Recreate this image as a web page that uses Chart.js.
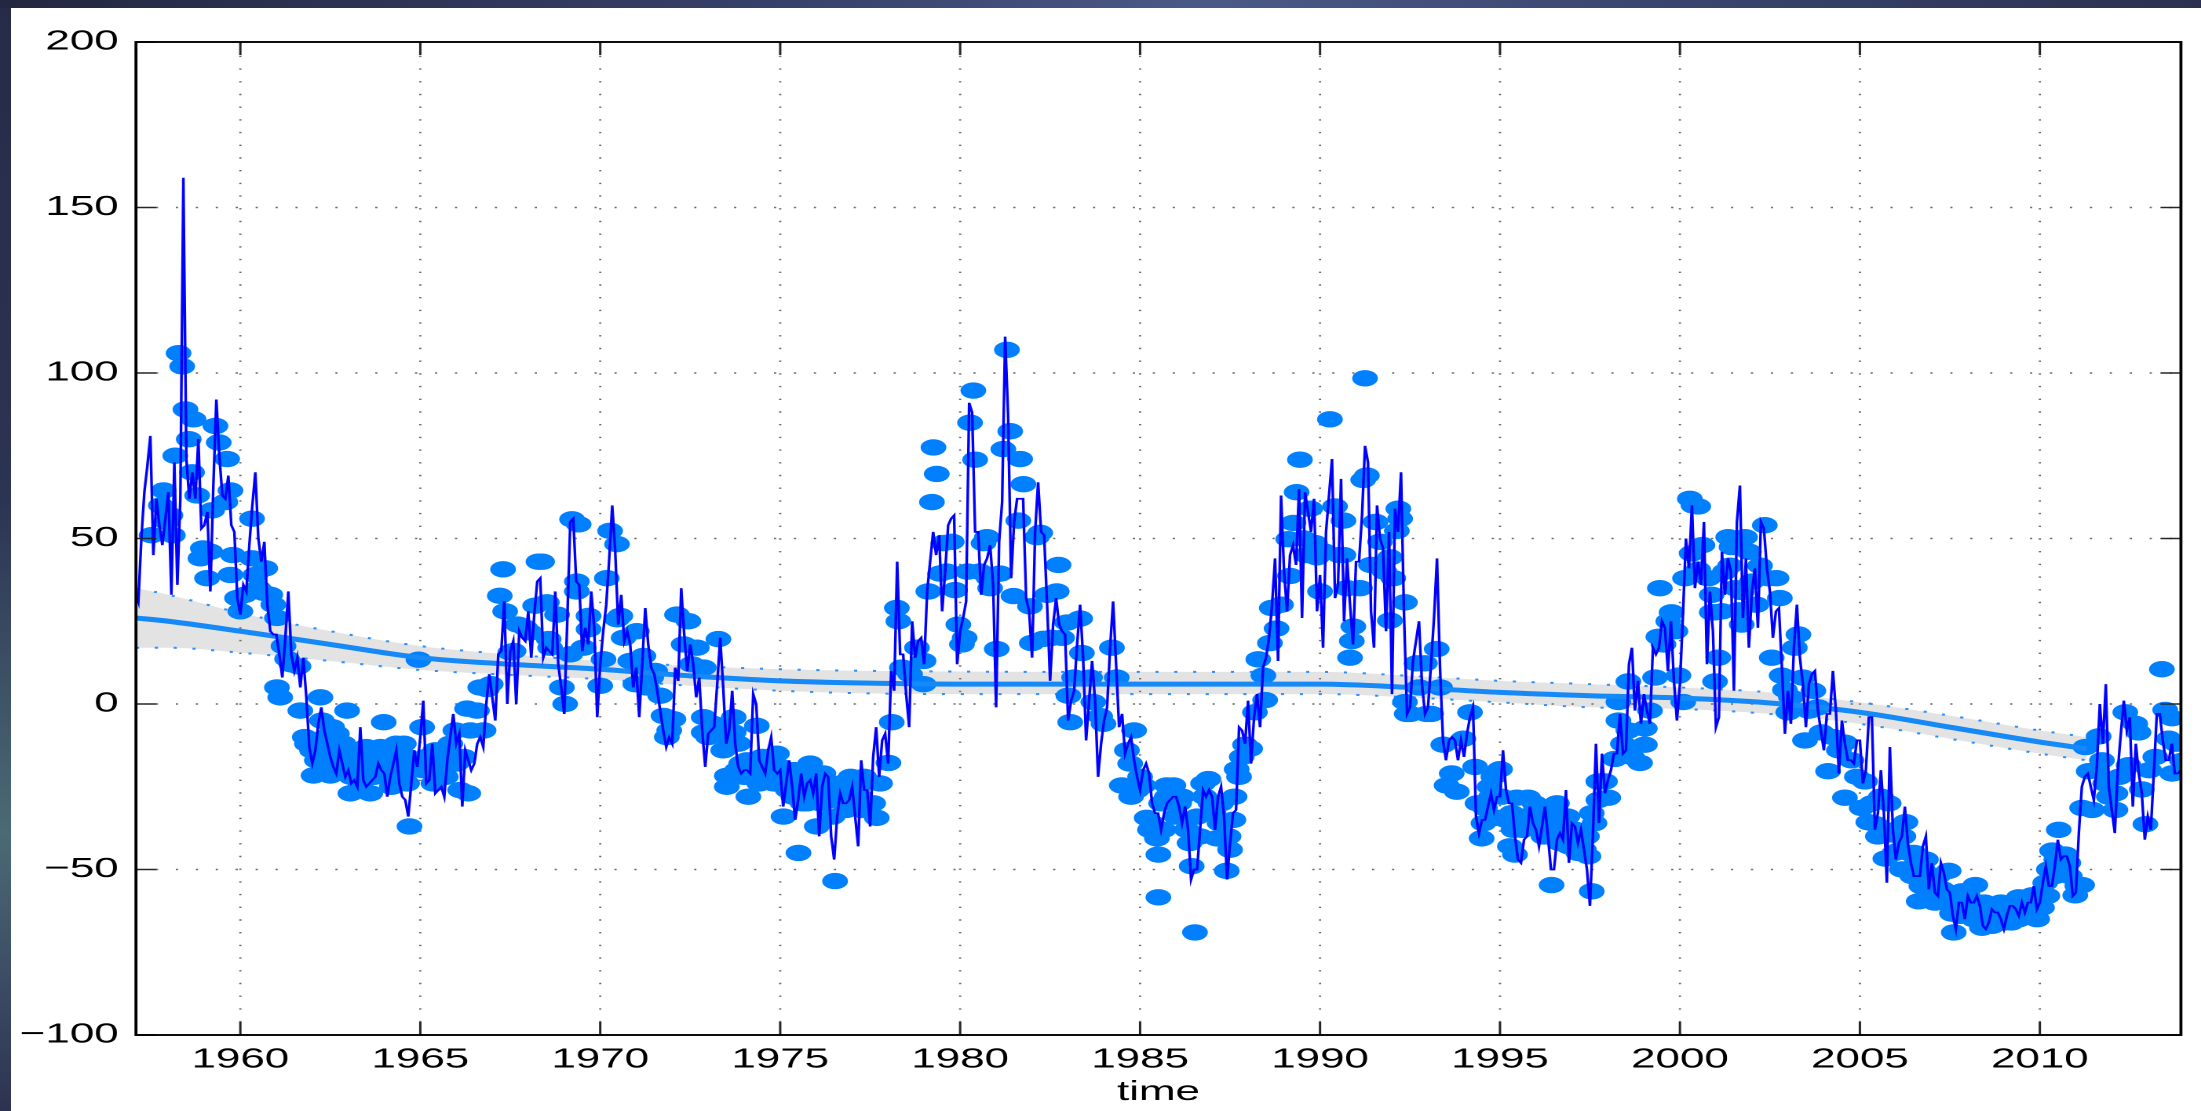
<!DOCTYPE html>
<html><head><meta charset="utf-8">
<script src="https://cdn.jsdelivr.net/npm/chart.js@4.4.1/dist/chart.umd.min.js"></script>
<style>
html,body{margin:0;padding:0;width:2201px;height:1111px;overflow:hidden;}
body{position:relative;background:linear-gradient(180deg,#262b47 0%,#2c3453 45%,#4b6a74 75%,#3a4862 90%,#2c3350 100%);}
#topstrip{position:absolute;left:0;top:0;width:2201px;height:8px;background:linear-gradient(90deg,#23273f 0%,#37406a 35%,#4a5a86 55%,#3b4670 75%,#2a3150 100%);}
#paper{position:absolute;left:11px;top:8px;right:0;bottom:0;background:#fff;}
#wrap{position:absolute;left:0;top:0;width:1402px;height:1111px;transform:scaleX(1.5699);transform-origin:0 0;}
canvas{display:block;}
</style></head><body>
<div id="topstrip"></div><div id="paper"></div>
<div id="wrap"><canvas id="c" width="1402" height="1111"></canvas></div>
<script>
// ---------- DATA ----------
const lineStartYear = 1957;          // first monthly value = Jan 1957
const lineValues = [
 35,34,31,50,64,72,81,45,62,54,48,56,
 64,33,73,36,62,159,74,62,70,62,80,53,
 54,58,34,66,92,75,63,62,69,54,52,32,
 27,36,34,48,60,70,50,43,49,30,22,21,
 21,15,8,20,34,15,10,14,5,14,2,-13,
 -18,-14,-6,-1,-8,-12,-16,-19,-21,-14,-18,-22,
 -20,-24,-23,-25,-7,-23,-25,-24,-23,-22,-18,-20,
 -21,-28,-22,-18,-14,-24,-28,-29,-34,-24,-14,-19,
 -10,1,-24,-23,-12,-27,-26,-25,-28,-17,-10,-3,
 -12,-9,-31,-14,-17,-20,-18,-12,-10,-13,0,9,
 2,-5,15,16,31,0,16,19,0,22,20,19,
 28,14,27,37,38,14,17,16,15,34,12,5,
 -3,25,55,56,37,36,16,23,18,34,23,-4,
 12,22,30,44,60,46,24,33,19,22,18,5,
 11,-4,12,29,18,11,9,4,-2,-8,-13,-10,
 -12,11,7,35,21,10,18,12,2,8,-8,-19,
 -9,-8,-7,6,20,5,-12,-8,4,-12,-19,-21,
 -20,-20,-21,3,0,-17,-19,-21,-14,-10,-20,-21,
 -20,-31,-24,-17,-25,-35,-29,-21,-28,-24,-23,-27,
 -21,-40,-25,-21,-22,-40,-47,-34,-27,-30,-30,-29,
 -25,-34,-43,-17,-26,-26,-37,-16,-7,-22,-11,-9,
 -18,10,4,43,15,15,3,-7,25,14,19,20,
 12,34,43,52,45,51,28,40,54,56,57,12,
 22,26,31,91,88,52,52,33,42,44,48,36,
 -1,49,61,111,87,38,55,62,62,62,32,28,
 14,52,67,52,51,30,7,24,32,24,22,21,
 -5,1,4,18,30,14,-11,1,13,1,-22,-12,
 -5,-1,17,31,12,-7,-3,-15,-12,-10,-17,-22,
 -26,-20,-18,-21,-30,-33,-33,-38,-33,-30,-29,-28,
 -28,-31,-36,-31,-38,-53,-50,-50,-38,-26,-28,-26,
 -28,-38,-28,-25,-34,-53,-42,-33,-32,-7,-8,-12,
 1,-18,-4,3,-7,11,14,20,30,44,13,63,
 40,28,45,48,42,65,26,64,58,52,62,28,
 39,17,52,63,74,32,36,68,25,44,30,18,
 43,43,57,78,73,28,17,60,50,47,22,52,
 3,59,52,70,27,-3,-1,13,19,25,6,-3,
 -1,12,26,44,11,-11,-17,-11,-10,-11,-17,-11,
 -16,-9,-4,-1,-34,-39,-35,-35,-31,-27,-32,-28,
 -28,-14,-26,-30,-30,-40,-47,-48,-41,-40,-31,-36,
 -38,-43,-37,-31,-40,-50,-50,-41,-39,-41,-26,-48,
 -36,-37,-42,-38,-44,-50,-61,-39,-12,-36,-15,-27,
 -23,-20,-15,-15,-3,-15,-14,12,17,-2,7,-6,
 3,-2,-6,17,15,17,25,23,10,25,7,-5,
 6,27,50,41,60,35,43,36,55,12,34,22,
 -7,-4,46,33,44,40,4,55,66,26,44,17,
 34,41,23,55,53,41,34,20,28,29,11,-9,
 4,-6,17,30,14,6,-7,6,9,10,-2,-8,
 -14,-3,-3,10,-2,-21,-5,-12,-17,-17,-18,-11,
 -11,-24,-20,-4,-4,-38,-33,-20,-33,-54,-13,-38,
 -47,-42,-40,-31,-42,-48,-52,-52,-52,-43,-40,-56,
 -48,-57,-58,-48,-51,-56,-57,-64,-68,-60,-60,-65,
 -58,-60,-60,-58,-61,-67,-68,-66,-62,-63,-63,-65,
 -68,-64,-61,-61,-62,-64,-60,-63,-60,-60,-55,-62,
 -60,-54,-49,-55,-55,-49,-41,-47,-46,-46,-49,-58,
 -57,-39,-25,-22,-21,-25,-29,-19,0,-12,6,-25,
 -32,-39,-20,-9,1,-8,-4,-31,-12,-21,-27,-41,
 -34,-38,-21,-3,-3,-11,-17,-17,-12,-21,-21,-20
];

// observation markers: [months after Jan 1957, value]
const markerPoints = [
 [6.4,51],[9.5,60],[10.4,64.5],[11.5,55],[12.7,57],[13.5,51],[14.3,75],[15.4,106],[16.6,102],[17.7,89],
 [18.8,80],[19.9,70],[20.4,86],[21.6,63],[22.7,44],[23.5,47],[24.9,38],[26,46],[26.6,58.5],[27.7,84],
 [28.8,79],[31,61],[31.6,74],[32.7,64.5],[32.7,39],[33.5,45],[34.9,32],[36,28],[37.5,33],[39.9,56],
 [39.9,44],[41,39],[42,35],[43.8,33.6],[44.3,41],[46,33],[47,30],[48.2,26],[48.2,5],[49.3,2],
 [50.4,17.5],[51.6,13.6],[53,12],[55.4,11.4],[56,-2],[57.5,-10],[58.2,-12],[59.9,-14],[60.4,-21.6],[61.5,-17],
 [62,-15],[62.7,2],[63.2,-5],[63.5,-18],[64.5,-10],[65,-16],[66,-21.6],[66.6,-7],[67,-20],[67.5,-12],
 [68.2,-9],[69,-15],[70,-20],[70.4,-12],[71,-16],[71.6,-2],[72.7,-27],[73,-22],[74,-18],[74.5,-14],
 [75.5,-20],[76,-24],[77,-19.6],[78,-13],[78.5,-20],[79.3,-27],[80.5,-22],[81,-16],[82.7,-13],[83.8,-5.5],
 [84,-22],[85,-18],[86,-14],[86.5,-25],[87.5,-20],[88,-12],[89,-15],[90,-22],[90.5,-12],[91.6,-16],
 [91.6,-24],[92.4,-37],[93,-20],[94,-18],[95.4,13.4],[96.6,-7],[97,-20],[98,-16],[99,-20],[100.4,-24],
 [101,-14],[102,-17],[103.8,-19.6],[104.5,-22],[105,-15],[106,-12],[107.7,-8],[108,-18],[109.3,-26],[110.5,-16],
 [111.6,-1.4],[112,-27],[112.7,-8],[114.9,-2],[116,5],[117.1,-8],[118.2,4.5],[119.5,6],
 [122.5,32.7],[123.6,40.7],[124.3,28],[126,15.6],[127.1,16],[128.5,24],[131,23],[132.7,21.6],[134.3,29.7],[135.4,43],
 [136.6,43],[138.2,30.7],[138.8,19.6],[139.3,17],[141.6,27],[143.2,5],[144.3,0],[146,15],[146.6,55.8],[148.2,37],
 [148.2,34],[148.8,54.3],[150.4,17],[152.1,26.6],[152.1,22.6],[156,5.5],[157.1,13.5],[158.2,38],[159.3,52.3],[161.6,48.3],
 [161.6,25.6],[162.7,26.6],[163.8,20],[166,13],[167.7,6],[168.2,22],[169.3,11.5],[170.4,14.5],[171.5,5],[173,8],
 [174.3,10],[176,2.5],[177.1,-3.6],[178.2,-10],[179,-8],[180.4,-4.6],[181.6,27],[183.8,18],[185.4,25],[186.5,12],
 [188.2,17],[190.5,11],[190.5,-4],[190.5,-8.6],[192,-10],[193.5,-6],[194.9,-9],[195.4,19.6],[196.5,-8],[197,-14],
 [198.2,-21.7],[198.2,-25],[199,-12],[200.5,-4],[200.5,-8.6],[201.6,-20],[202,-12],[203,-18],[204,-22],[204.9,-17],
 [205.4,-28],[206.5,-22],[207.5,-18],[208.2,-6.6],[209,-24],[210,-16],[211.5,-19],[212,-17],[213,-22],[214,-24],
 [214.9,-15],[215.5,-20],[216,-19],[217.1,-34],[217.5,-23],[218.5,-26],[219.5,-20],[220.4,-28],[221,-20],[222.1,-45],
 [222.7,-24],[223.5,-30],[224.9,-30],[225.5,-26],[226,-18],[227,-22],
 [228.2,-24.6],[228.2,-37],[229.5,-30],[230.4,-21],[231.5,-26],[232.7,-29],[233.5,-34],[234.3,-53.5],[235,-28],[236,-24],
 [237,-26],[238,-32],[239.5,-22],[240,-30],[241.6,-25.8],[242.5,-28],[243,-32],[244,-22],[245.4,-23.4],[246,-30],
 [247,-30],[248.2,-34.4],[249.3,-24],[252.1,-17.8],[253.2,-5.5],[254.9,29],[255.4,25],[256.6,11],[259.3,9],
 [261.6,17],[263.8,6],[263.8,13],[265.4,34],[266.6,61],[267.1,77.5],[268.2,69.5],[269.3,39.4],[270.4,48.6],[271.5,40],
 [273.2,49],[274.3,34.4],[275.4,24],[276.6,18],[277.5,20],[278.5,40],[279.3,85],[280.4,94.7],[281,73.8],[282.5,40],
 [283.8,48.6],[284.9,50.4],[285.5,38],[286,35],[288.2,16.6],[289.3,39.4],[290.4,77],[291.6,107],[292.7,82.4],[293.8,32.6],
 [295.4,55.4],[296,74],[297.1,66.4],[299.3,29.5],[299.9,18.4],[301.6,50.4],[302.7,51.7],[303.8,19.7],[305,33],[306.5,20],
 [308.2,34],[308.8,42],[310,20],[311.6,24.6],[312.1,2.5],[312.7,-5.5],[314,8],[316,25.8],[316.6,15.4],[319.3,8],
 [320.4,0.6],[322.7,-3.7],[323.8,-6],[326.6,17],[328.2,8],[329.9,-24.6],[331.6,-14],[332.7,-18],[333,-28],[334,-8],
 [335,-26],[336,-22],[337.1,-24.6],[338.2,-34.4],[339.3,-38],[340,-36],[341.6,-40.6],[342.1,-45.5],[342.1,-58.4],[343,-30],
 [343.8,-38],[344.9,-28],[344.9,-24.6],[346,-27],[347.1,-24.6],[348,-34],[349,-30],[350,-28],[351.6,-38],[352.5,-42],
 [353.2,-49],[354.3,-69],[355,-34],[356,-40],[357,-24],[357.5,-28],[358.8,-22.7],[359.5,-30],[360.5,-33],[361.6,-40.6],
 [362.5,-36],[363,-30],[364.9,-50.4],[365.5,-40],[366,-44],[367.1,-35],[367.5,-28],[368.2,-19.7],[369,-22],[369.9,-16],
 [371,-12.3],[372.7,-13.5],[374.3,-2.5],[375.4,13.5],[377.1,8.6],[377.7,1.2],[379.3,18.4],[379.9,29],[381.5,22.8],[383,30],
 [385.4,49.8],[386,38.7],[387.1,54.7],[388.2,64],[389.3,73.8],[390.5,50],[391.5,45],[392.7,59],[394.3,48.6],[394.9,44.3],
 [396,34],[397.5,46],[399.3,86],[401,59.7],[402.5,45],[403.8,55.4],[403.8,45],[405,35],[406,14],[406.6,19],
 [407.1,23.4],[409.3,35],[410.4,67.7],[411,98.4],[411.6,69],[413,42],[414.5,55],[415.4,41.8],[416,49],[417.5,40],
 [419.3,25.2],[419.3,44.3],[420.4,38],[421.6,52.3],[422.1,59],[422.7,56],[424.3,30.7],[424.3,0.6],[424.9,-3],[426,-3],
 [428.2,12.3],[429,5],[431,12.3],[431.6,-3],[433,-3],[434.9,16.6],[436,5],[437.1,-12.3],[438.2,-24.6],[439.9,-21],
 [441.6,-26.5],[443.8,-10.5],[446,-2.5],[447.7,-19],[448.5,-30],[449.9,-40.6],[450.5,-36],[451,-31.4],[452.5,-25],[453,-28],
 [453.8,-22],[454.9,-34.4],[456,-19.7],[456.5,-28],[458,-35],[459.3,-43],[459.9,-33],[460.5,-38],[461,-45.5],[461.6,-28.3],
 [462.1,-34.4],[463.5,-38],[464,-34],[465.4,-28.3],[466.6,-35],[467.5,-30],[468,-31],[469.5,-36],[470.5,-40],[471,-31.4],
 [472.5,-40],[473.2,-54.7],[473.8,-36],[474.3,-34.4],[475,-30],[476,-42],[477.7,-38],[478.5,-34],[479,-43],[480.5,-40],
 [481,-38],[482.1,-45],[483,-40],[484,-44],[485,-40],[485.5,-46],[486.6,-56.6],[486.6,-33],[487.5,-36],[488.8,-29],
 [488.8,-23.4],[491,-23.4],[492.1,-28.3],[494.3,-16.6],[495.5,0.6],[495.5,-5],[497,-12],[498.8,6.8],[498.8,-8],[500,-16],
 [502.7,-17.8],[504.3,-12.3],[504.3,-7.4],[506,-2],[507.7,8],[508.8,20.3],[509.3,35],[510.5,18],[512.1,25],[513.2,27.7],
 [514.5,22],[515.5,8.6],[517.1,0.6],[517.7,38],[519.3,62],[519.9,45.5],[520.5,60],[522.1,59.7],[522.1,40.6],[523.5,48],
 [525.4,38],[526.6,33],[526.6,27.7],[527.7,6.8],[527.7,27.7],[528.8,14],[530,28],[531,40],[532.1,50.4],[532.7,41.8],
 [533.2,47.4],[534.5,35],[535.5,28.3],[536.6,33.8],[536.6,24],[537.7,50.4],[539,46],[540,37],[541.5,30],[542.7,41.8],
 [544.3,54],[545.5,38],[546.6,14],[548.2,38],[549.3,32],[549.9,8.6],[551,4.3],[552.1,-2.5],[553,2],[554.3,17],
 [555.5,21],[557,8],[557.7,-11],[559,-2],[560.5,4],[562,-1],[563.2,-8.6],[565.4,-20.3],[567,-10],[569,-14],
 [571,-11.7],[571,-28.3],[573.2,-17],[575,-22],[576.6,-31.4],[577.7,-23.4],[578.8,-35.7],
 [580,-30],[581.2,-36.3],[582,-40],[583,-28],[584.5,-46.7],[585.6,-30],[586.7,-39.4],[587.5,-45],[588,-38],[589,-44.3],
 [590,-50],[590.5,-40],[591.2,-35.7],[592.5,-45],[593.5,-52],[594,-45],[595,-48],[595.6,-59.6],[596.5,-55],[597,-50],
 [598,-47],[598.5,-52],[599,-54.7],[600.5,-58],[601,-60],[602,-52],[603.5,-56],[604.5,-60],[605.6,-50.4],[606.7,-63.3],
 [607,-58],[607.3,-69],[608.5,-60],[609.5,-64],[610.1,-56.6],[611.5,-62],[612,-58],[613,-60],[614,-65],[614.5,-54.7],
 [615.5,-62],[616.7,-67.6],[617.5,-60],[618,-65],[619,-62],[619.5,-66],[620.1,-67],[621.2,-61.5],[622.5,-65],[623,-60],
 [624,-66],[624.8,-62],[625.5,-63],[626.5,-66],[627,-62],[628,-60],[629,-65],[629,-58.4],[630.5,-61],[631,-64],
 [632,-62],[633,-62],[633.4,-57.8],[634.5,-60],[635.1,-65],[636,-58],[636.7,-61.5],[637.8,-54],[638.5,-58],[639,-50],
 [640.1,-44.3],[641,-52],[641.5,-47],[642.3,-38],[643.5,-50],[644.5,-45.5],[645.5,-48],[646,-52],[647.8,-57.8],[648.5,-55],
 [650.1,-54.7],[650.1,-31.4],[651.2,-13],[652.3,-20.3],[653.4,-32],[655,-20],[655.6,-9.8],[656.7,-17],[657.8,-24],[659,-28],
 [661.2,-32],[661.2,-27],[662.5,-22],[664.5,-2.5],[665.6,-18.5],[667.8,-6],[668.9,-8.6],[670,-25.8],[671.2,-36.3],[672.5,-20],
 [674.5,-16],[676.7,10.5],[677.8,-1.8],[679,-10.5],[680.1,-4.3],[680.1,-21],[681.5,-12],[683.4,-17.2]
];

// smooth trend with confidence band
const trendYears  = [1957.1,1958,1960,1962.5,1965,1967.5,1970,1972.5,1975,1977.5,1980,1982.5,1985,1987.5,1990,1992.5,1995,1997.5,2000,2002.5,2005,2007.5,2010,2011.3];
const trendValues = [26,25,22,18,14,12,10.5,8.5,7,6.3,6,6,6,6,6,5,3.5,2.5,1.8,0.3,-2.5,-7,-11.5,-13.5];
const bandUpper   = [35,33,27.5,22,17.5,15,13,11.5,10.5,10,9.8,9.7,9.7,9.7,9.7,8.5,7,6,5,3.5,0.5,-3.5,-8,-10];
const bandLower   = [17,17,15.5,13,10.3,8.8,7.5,5.5,4,3.2,3,3,3,3,3,2,0.5,-1,-1.5,-3,-6,-10.5,-15,-17];

const xTickValues = [1960,1965,1970,1975,1980,1985,1990,1995,2000,2005,2010];
const yTickValues = [-100,-50,0,50,100,150,200];
const xMin = 1957.1, xMax = 2013.92, yMin = -100, yMax = 200;
const xTitle = 'time';

// ---------- CHART ----------
const FONT = 'Liberation Sans, Arial, sans-serif';
const pts = (xs, ys) => xs.map((x, i) => ({x: x, y: ys[i]}));
const lineData = lineValues.map((v, i) => ({x: lineStartYear + i / 12, y: v}));
const markerData = markerPoints.map(p => ({x: lineStartYear + p[0] / 12, y: p[1]}));

const frame = {
  id: 'frame',
  beforeDatasetsDraw(chart) {
    const {ctx, chartArea: a, scales: {x, y}} = chart;
    ctx.save();
    ctx.strokeStyle = '#6a6a6a';
    ctx.lineWidth = 1.4;
    ctx.setLineDash([1.4, 11.3]);
    xTickValues.forEach(v => {
      const px = x.getPixelForValue(v);
      ctx.beginPath(); ctx.moveTo(px, a.bottom); ctx.lineTo(px, a.top); ctx.stroke();
    });
    yTickValues.forEach(v => {
      if (v === yMin || v === yMax) return;
      const py = y.getPixelForValue(v);
      ctx.beginPath(); ctx.moveTo(a.left, py); ctx.lineTo(a.right, py); ctx.stroke();
    });
    ctx.restore();
  },
  afterDatasetsDraw(chart) {
    const {ctx, chartArea: a, scales: {x, y}} = chart;
    ctx.save();
    ctx.setLineDash([]);
    ctx.strokeStyle = '#262626';
    ctx.lineWidth = 1.5;
    const tl = 13;
    xTickValues.forEach(v => {
      const px = x.getPixelForValue(v);
      ctx.beginPath();
      ctx.moveTo(px, a.bottom); ctx.lineTo(px, a.bottom - tl);
      ctx.moveTo(px, a.top); ctx.lineTo(px, a.top + tl);
      ctx.stroke();
    });
    yTickValues.forEach(v => {
      const py = y.getPixelForValue(v);
      ctx.beginPath();
      ctx.moveTo(a.left, py); ctx.lineTo(a.left + tl, py);
      ctx.moveTo(a.right, py); ctx.lineTo(a.right - tl, py);
      ctx.stroke();
    });
    ctx.strokeStyle = '#000';
    ctx.lineWidth = 1.9;
    ctx.strokeRect(a.left, a.top, a.right - a.left, a.bottom - a.top);
    ctx.restore();
  }
};

new Chart(document.getElementById('c'), {
  type: 'scatter',
  data: {
    datasets: [
      { type: 'line', label: 'monthly', data: lineData, borderColor: '#0000ff', borderWidth: 1.7,
        pointRadius: 0, fill: false, tension: 0, order: 0 },
      { type: 'line', label: 'trend', data: pts(trendYears, trendValues), borderColor: '#1589f7', borderWidth: 5,
        pointRadius: 0, fill: false, cubicInterpolationMode: 'monotone', order: 1 },
      { label: 'obs', data: markerData, backgroundColor: 'rgb(0,128,255)', borderWidth: 0,
        pointRadius: 8.2, pointStyle: 'circle', order: 2 },
      { type: 'line', label: 'upper', data: pts(trendYears, bandUpper), borderColor: '#2a8fff', borderWidth: 2,
        borderDash: [2, 10], pointRadius: 0, fill: '+1', backgroundColor: '#e3e3e3',
        cubicInterpolationMode: 'monotone', order: 3 },
      { type: 'line', label: 'lower', data: pts(trendYears, bandLower), borderColor: '#2a8fff', borderWidth: 2,
        borderDash: [2, 10], pointRadius: 0, fill: false,
        cubicInterpolationMode: 'monotone', order: 4 }
    ]
  },
  options: {
    responsive: false,
    devicePixelRatio: 2,
    animation: false,
    events: [],
    layout: { padding: { left: 0, right: 12.8, top: 42, bottom: 0 } },
    plugins: { legend: { display: false }, tooltip: { enabled: false },
               filler: { drawTime: 'beforeDatasetsDraw' } },
    scales: {
      x: {
        type: 'linear', min: xMin, max: xMax,
        afterBuildTicks: s => { s.ticks = xTickValues.map(v => ({value: v})); },
        afterFit: s => { s.height = 76; },
        grid: { display: false, drawTicks: false }, border: { display: false },
        ticks: { callback: v => String(v), color: '#000', font: { family: FONT, size: 28 },
                 padding: 8, maxRotation: 0, autoSkip: false },
        title: { display: true, text: xTitle, color: '#000', font: { family: FONT, size: 28 },
                 padding: { top: 0, bottom: 2 } }
      },
      y: {
        type: 'linear', min: yMin, max: yMax,
        afterBuildTicks: s => { s.ticks = yTickValues.map(v => ({value: v})); },
        afterFit: s => { s.width = 86.6; },
        grid: { display: false, drawTicks: false }, border: { display: false },
        ticks: { callback: v => (v < 0 ? '\u2212' + Math.abs(v) : String(v)), color: '#000',
                 font: { family: FONT, size: 28 }, padding: 11, autoSkip: false }
      }
    }
  },
  plugins: [frame]
});
</script>
</body></html>
